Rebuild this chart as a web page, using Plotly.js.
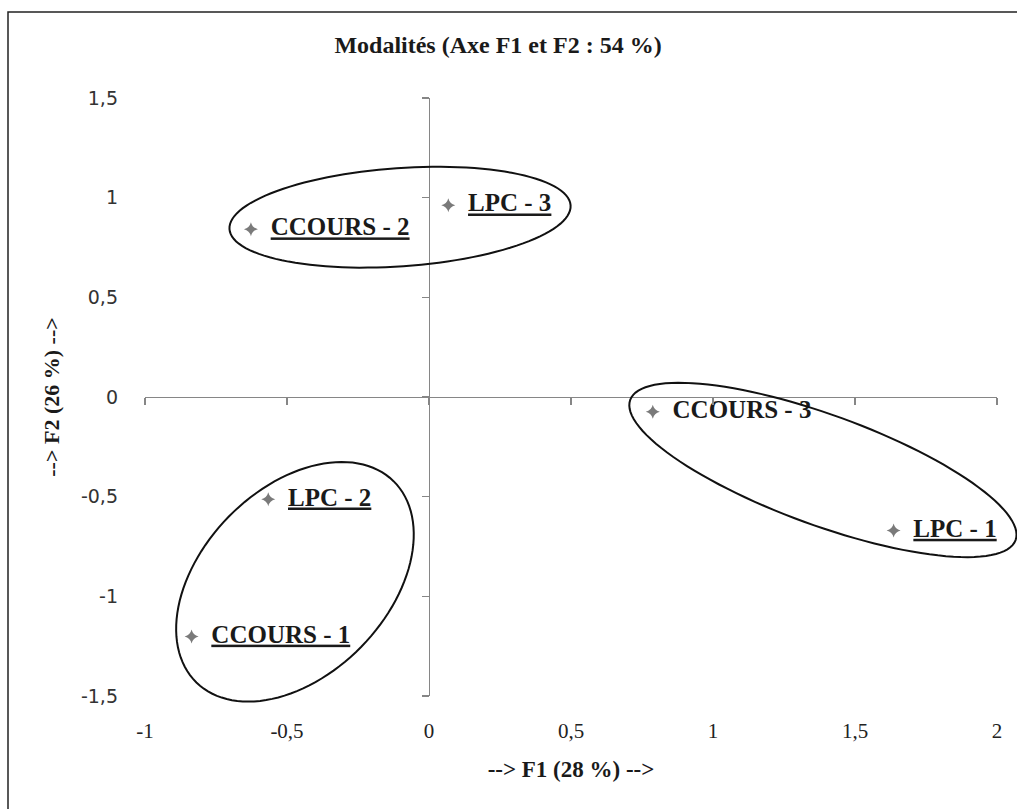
<!DOCTYPE html>
<html>
<head>
<meta charset="utf-8">
<script src="https://cdn.plot.ly/plotly-3.0.1.min.js"></script>
<style>html,body{margin:0;padding:0;background:#fff;}#chart{width:1017px;height:809px;}</style>
</head>
<body>
<div id="chart"></div>
<script>
// ---- data ----
const labels = ['CCOURS - 1', 'CCOURS - 2', 'CCOURS - 3', 'LPC - 1', 'LPC - 2', 'LPC - 3'];
const f1 = [-0.836, -0.627, 0.788, 1.636, -0.566, 0.068];
const f2 = [-1.201, 0.842, -0.074, -0.670, -0.513, 0.962];
const underlined = ['CCOURS - 1', 'CCOURS - 2', 'LPC - 1', 'LPC - 2', 'LPC - 3'];

const xTickVals = [-1, -0.5, 0, 0.5, 1, 1.5, 2];
const xTickText = ['-1', '-0,5', '0', '0,5', '1', '1,5', '2'];
const yTickVals = [-1.5, -1, -0.5, 0, 0.5, 1, 1.5];
const yTickText = ['-1,5', '-1', '-0,5', '0', '0,5', '1', '1,5'];

const xRange = [-1, 2];
const yRange = [-1.5, 1.5];

// grouping ellipses (hand-drawn annotations): centre in data units,
// semi-axes in x-data units, rotation in screen degrees
const ellipseCx = [-0.102, -0.472, 1.387];
const ellipseCy = [0.902, -0.927, -0.366];
const ellipseA = [0.602, 0.496, 0.722];
const ellipseB = [0.173, 0.327, 0.194];
const ellipseDeg = [4, 45.6, -20];

// ---- layout geometry ----
const W = 1017, H = 809;
const M = {l: 145, r: 20, t: 98, b: 113};
const plotW = W - M.l - M.r, plotH = H - M.t - M.b;
const pxPerX = plotW / (xRange[1] - xRange[0]);
const pxPerY = plotH / (yRange[1] - yRange[0]);
const aspect = pxPerX / pxPerY;

function toPaperX(v) { return (v - xRange[0]) / (xRange[1] - xRange[0]); }
function toPaperY(v) { return (v - yRange[0]) / (yRange[1] - yRange[0]); }

function ellipsePath(i) {
  const th = ellipseDeg[i] * Math.PI / 180;
  const pts = [];
  for (let k = 0; k <= 120; k++) {
    const t = 2 * Math.PI * k / 120;
    const u = ellipseA[i] * Math.cos(t), w = ellipseB[i] * Math.sin(t);
    const dx = u * Math.cos(th) - w * Math.sin(th);
    const dy = (u * Math.sin(th) + w * Math.cos(th)) * aspect;
    pts.push(toPaperX(ellipseCx[i] + dx).toFixed(5) + ',' + toPaperY(ellipseCy[i] + dy).toFixed(5));
  }
  return 'M' + pts.join(' L') + ' Z';
}

const shapes = ellipseCx.map((_, i) => ({
  type: 'path', xref: 'paper', yref: 'paper', path: ellipsePath(i),
  line: {color: '#111', width: 2}, fillcolor: 'rgba(0,0,0,0)', layer: 'above'
}));
// chart-area border (only top/left visible in the crop)
shapes.push({
  type: 'rect', xref: 'paper', yref: 'paper',
  x0: (8 - M.l) / plotW, x1: 1.06, y0: -0.3, y1: (H - M.b - 12) / plotH,
  line: {color: '#222', width: 1.5}, layer: 'below'
});

const gap = '\u00A0\u00A0';
const textLabels = labels.map(l => gap + (underlined.includes(l)
  ? '<span style="text-decoration:underline">' + l + '</span>' : l));

const traces = [
  {
    type: 'scatter', mode: 'markers+text',
    x: f1, y: f2, text: textLabels, textposition: 'middle right',
    cliponaxis: false,
    marker: {symbol: 'star-diamond', size: 10, color: '#7a7a7a'},
    textfont: {family: 'Liberation Serif', size: 25, color: '#1a1a1a', weight: 'bold'},
    hoverinfo: 'x+y', showlegend: false
  },
  {type: 'scatter', x: [], y: [], xaxis: 'x2', yaxis: 'y2', showlegend: false, hoverinfo: 'skip'}
];

const axisGray = '#868686';
const layout = {
  width: W, height: H,
  margin: {l: M.l, r: M.r, t: M.t, b: M.b, pad: 0},
  paper_bgcolor: '#ffffff', plot_bgcolor: '#ffffff',
  showlegend: false,
  title: {
    text: '<b>Modalités (Axe F1 et F2 : 54 %)</b>',
    font: {family: 'Liberation Serif', size: 24, color: '#1a1a1a'},
    xref: 'container', x: 498 / W, xanchor: 'center',
    yref: 'container', y: 1 - 45 / H, yanchor: 'middle'
  },
  xaxis: {
    range: xRange, tickmode: 'array', tickvals: xTickVals, ticktext: xTickText,
    showline: false, zeroline: false, showgrid: false, ticks: '',
    ticklabelstandoff: 20,
    tickfont: {family: 'Liberation Serif', size: 21, color: '#222'},
    title: {text: '<b>--> F1 (28 %) --></b>', font: {family: 'Liberation Serif', size: 23, color: '#1a1a1a'}, standoff: 18}
  },
  yaxis: {
    range: yRange, tickmode: 'array', tickvals: yTickVals, ticktext: yTickText,
    showline: false, zeroline: false, showgrid: false, ticks: '',
    ticklabelstandoff: 26,
    tickfont: {family: 'DejaVu Sans', size: 19, color: '#333'},
    title: {text: '<b>--> F2 (26 %) --></b>', font: {family: 'Liberation Serif', size: 22, color: '#1a1a1a'}, standoff: 15}
  },
  xaxis2: {
    overlaying: 'x', anchor: 'free', position: toPaperY(0), side: 'bottom',
    range: xRange, tickmode: 'linear', tick0: 0, dtick: 0.5,
    showline: true, linecolor: axisGray, linewidth: 1.3,
    ticks: 'outside', ticklen: 7, tickcolor: axisGray, tickwidth: 1.3,
    showticklabels: false, showgrid: false, zeroline: false
  },
  yaxis2: {
    overlaying: 'y', anchor: 'free', position: toPaperX(0), side: 'left',
    range: yRange, tickmode: 'linear', tick0: 0, dtick: 0.5,
    showline: true, linecolor: axisGray, linewidth: 1.3,
    ticks: 'outside', ticklen: 7, tickcolor: axisGray, tickwidth: 1.3,
    showticklabels: false, showgrid: false, zeroline: false
  },
  shapes: shapes
};

Plotly.newPlot('chart', traces, layout, {displayModeBar: false, staticPlot: true});
</script>
</body>
</html>
